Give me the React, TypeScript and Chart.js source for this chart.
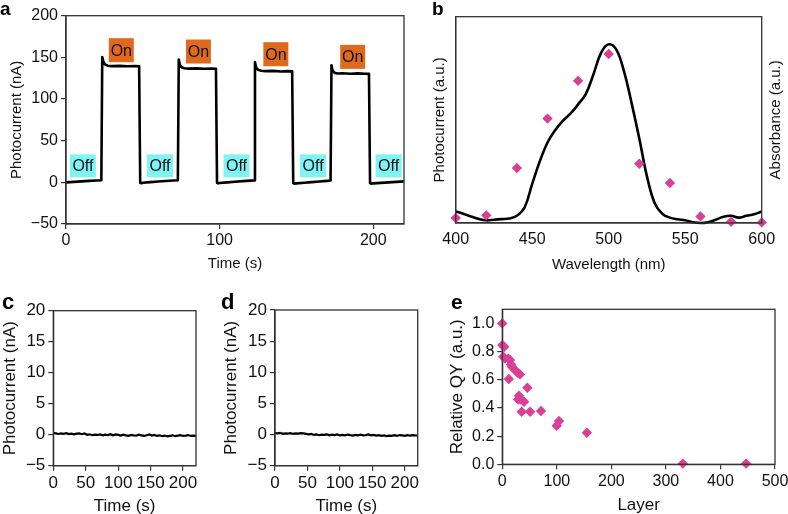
import React, { useEffect, useRef } from "react";
import { Chart, registerables } from "chart.js";
Chart.register(...registerables);

const FONT = "'Liberation Sans', Arial, Helvetica, sans-serif";
const AXIS = "#333";
const TXT = "#111";
const MAGENTA = "#DA3F96";

// ---------- Panel a ----------
const A_TIME = [0, 5, 10, 15, 20, 23, 23.6, 24.3, 25.3, 27, 30, 35, 40, 45, 47.6, 48.3, 49, 50, 55, 60, 65, 70, 72.8,
  73.4, 74.1, 75.3, 77, 80, 85, 90, 95, 97.6, 98.3, 99, 100, 105, 110, 115, 120, 122.4,
  123, 123.7, 125, 127, 130, 135, 140, 144, 147.2, 147.9, 148.6, 150, 155, 160, 165, 170, 172.2,
  172.8, 173.5, 175, 177, 180, 185, 190, 195, 197.2, 197.9, 198.6, 200, 205, 210, 215, 220];
const A_CURRENT = [0, 0.6, 1.2, 1.8, 2.3, 2.6, 150.5, 145, 141.5, 140, 139.5, 139.8, 139.4, 139.6, 139.2, -0.5, -1, -0.5, 0.3, 1, 1.6, 2.2, 2.5,
  147.5, 141, 138, 137, 136.5, 136.8, 136.3, 136.6, 136.2, -0.5, -1.2, -0.8, 0, 0.8, 1.5, 2.1, 2.4,
  144.5, 138, 135, 134, 133.5, 133.8, 133.1, 133.5, 133.2, -0.8, -1.5, -1.2, -0.5, 0.3, 1, 1.8, 2.2,
  140.5, 134, 131.2, 130.6, 130.9, 130.4, 130.8, 130.3, 130.2, -0.8, -1.5, -1.2, -0.6, 0, 0.6, 1.2];
const A_X_TICKS = [0, 100, 200];
const A_Y_TICKS = [-50, 0, 50, 100, 150, 200];
const ON_T = [36, 86.2, 136.6, 186.6];
const ON_V = [158.6, 157, 153.8, 150.6];
const OFF_T = [11, 61.2, 111, 160.8, 210];
const OFF_V = [19.8, 19.8, 19.8, 19.8, 19.8];

// ---------- Panel b ----------
const B_WL = [400, 405, 410, 415, 420, 425, 430, 435, 440, 445, 450, 455, 460, 465, 470, 475, 480, 485, 490, 495, 500,
  505, 510, 515, 520, 525, 530, 535, 540, 545, 550, 555, 560, 565, 570, 575, 580, 585, 590, 595, 600];
const B_ABS = [0.056, 0.045, 0.032, 0.02, 0.013, 0.016, 0.019, 0.022, 0.035, 0.075, 0.19, 0.3, 0.39, 0.45, 0.495, 0.53, 0.575, 0.625, 0.72, 0.825, 0.866,
  0.84, 0.735, 0.58, 0.41, 0.226, 0.097, 0.045, 0.026, 0.018, 0.013, 0.004, 0.0, 0.004, 0.016, 0.03, 0.035, 0.026, 0.035, 0.042, 0.056];
const B_WL_PTS = [400, 420, 440, 460, 480, 500, 520, 540, 560, 580, 600];
const B_PC_PTS = [0.024, 0.037, 0.266, 0.506, 0.689, 0.819, 0.287, 0.194, 0.032, 0.006, 0.003];
const B_X_TICKS = [400, 450, 500, 550, 600];

// ---------- Panels c, d ----------
const CD_TIME = [0, 4, 8, 12, 16, 20, 24, 28, 32, 36, 40, 44, 48, 52, 56, 60, 64, 68, 72, 76, 80, 84, 88, 92, 96, 100, 104, 108, 112, 116,
  120, 124, 128, 132, 136, 140, 144, 148, 152, 156, 160, 164, 168, 172, 176, 180, 184, 188, 192, 196, 200, 204, 208, 212, 216, 220];
const C_CURRENT = [0.30, 0.22, 0.12, 0.20, 0.14, 0.24, 0.10, 0.18, 0.06, 0.16,
  0.20, 0.08, 0.22, -0.02, 0.06, -0.08, 0.02, -0.04, 0.06, -0.10,
  0.00, -0.06, 0.08, -0.10, 0.04, -0.04, -0.14, 0.00, -0.10, -0.18,
  -0.04, -0.10, -0.14, 0.02, -0.10, -0.20, -0.08, 0.04, -0.14, -0.04,
  -0.20, -0.10, -0.24, -0.14, -0.28, -0.18, -0.10, -0.24, -0.14, -0.08,
  -0.20, -0.14, -0.06, -0.20, -0.14, -0.20];
const D_CURRENT = [0.24, 0.18, 0.26, 0.12, 0.20, 0.16, 0.22, 0.10, 0.18, 0.14,
  0.24, 0.20, 0.12, 0.04, 0.10, -0.06, 0.02, -0.10, 0.00, -0.06,
  0.04, -0.12, -0.02, -0.08, 0.02, -0.14, -0.06, -0.12, 0.00, -0.10,
  -0.16, -0.06, -0.12, -0.02, -0.14, -0.08, 0.02, -0.12, -0.06, -0.18,
  -0.10, -0.22, -0.14, -0.26, -0.16, -0.20, -0.10, -0.22, -0.08, -0.14,
  -0.20, -0.10, -0.16, -0.08, -0.14, -0.18];
const CD_X_TICKS = [0, 50, 100, 150, 200];
const CD_Y_TICKS = [-5, 0, 5, 10, 15, 20];

// ---------- Panel e ----------
const E_LAYER = [0, 0, 3.7, 1.8, 5, 11, 14, 16, 18, 23, 28, 32.5, 12, 46, 30.5, 29, 34, 40, 35.5, 51, 71, 99.7, 104, 155, 331, 447];
const E_QY = [1.0, 0.846, 0.834, 0.763, 0.75, 0.75, 0.74, 0.709, 0.69, 0.67, 0.65, 0.638, 0.605, 0.543, 0.487, 0.46, 0.46, 0.444, 0.373, 0.373, 0.378, 0.274, 0.307, 0.224, 0.005, 0.005];
const E_X_TICKS = [0, 100, 200, 300, 400, 500];
const E_Y_TICKS = [0, 0.2, 0.4, 0.6, 0.8, 1.0];

const minus = (v: number) => (v < 0 ? "\u2212" + Math.abs(v) : String(v));

type AxisP = {
  min: number; max: number; ticks: number[]; decimals?: number; size: number;
  font: number; title: string; titleFont: number; titlePad?: number;
  tickLen: number; tickPad?: number; showLabels?: boolean; horizontal: boolean;
};
function axis(p: AxisP): any {
  return {
    type: "linear",
    min: p.min,
    max: p.max,
    afterBuildTicks: (s: any) => { s.ticks = p.ticks.map((v) => ({ value: v })); },
    afterFit: (s: any) => {
      if (p.horizontal) { s.height = p.size; s.paddingLeft = 0; s.paddingRight = 0; }
      else { s.width = p.size; s.paddingTop = 0; s.paddingBottom = 0; }
    },
    grid: { display: true, drawOnChartArea: false, drawTicks: p.tickLen > 0, tickLength: p.tickLen, color: AXIS, lineWidth: 1.2 },
    border: { display: true, color: AXIS, width: 1.3 },
    ticks: {
      display: p.showLabels !== false,
      color: TXT,
      font: { family: FONT, size: p.font },
      padding: p.tickPad ?? 3,
      maxRotation: 0,
      autoSkip: false,
      callback: (v: any) => (p.decimals != null ? Number(v).toFixed(p.decimals) : minus(Number(v))),
    },
    title: {
      display: true, text: p.title, color: TXT,
      font: { family: FONT, size: p.titleFont },
      padding: { top: p.titlePad ?? 0, bottom: p.titlePad ?? 0 },
    },
  };
}

const boxPlugin = {
  id: "box",
  afterDraw(chart: any) {
    const { ctx, chartArea: a } = chart;
    ctx.save();
    ctx.strokeStyle = AXIS;
    ctx.lineWidth = 1.3;
    ctx.strokeRect(a.left, a.top, a.right - a.left, a.bottom - a.top);
    ctx.restore();
  },
};
const letter = (t: string, x: number, y: number, size: number) => ({
  id: "letter" + t,
  afterDraw(chart: any) {
    const ctx = chart.ctx;
    ctx.save();
    ctx.font = `bold ${size}px ${FONT}`;
    ctx.fillStyle = "#000";
    ctx.textBaseline = "alphabetic";
    ctx.textAlign = "left";
    ctx.fillText(t, x, y);
    ctx.restore();
  },
});

const onOffPlugin = {
  id: "onoff",
  beforeDatasetsDraw(chart: any) {
    const { ctx } = chart;
    const xs = chart.scales.x, ys = chart.scales.y;
    ctx.save();
    ctx.font = `16px ${FONT}`;
    ctx.textAlign = "center";
    ctx.textBaseline = "middle";
    ON_T.forEach((t, i) => {
      const cx = xs.getPixelForValue(t), cy = ys.getPixelForValue(ON_V[i]);
      ctx.fillStyle = "#DF6A1E";
      ctx.fillRect(cx - 12.5, cy - 12, 25, 24);
      ctx.fillStyle = "#111";
      ctx.fillText("On", cx, cy + 1);
    });
    OFF_T.forEach((t, i) => {
      const cx = xs.getPixelForValue(t), cy = ys.getPixelForValue(OFF_V[i]);
      ctx.fillStyle = "#80F4F4";
      ctx.fillRect(cx - 13, cy - 11.5, 26, 23);
      ctx.fillStyle = "#111";
      ctx.fillText("Off", cx, cy + 1);
    });
    ctx.restore();
  },
};

const rightTitle = {
  id: "rtitle",
  afterDraw(chart: any) {
    const { ctx, chartArea: a } = chart;
    ctx.save();
    ctx.translate(775.5, (a.top + a.bottom) / 2);
    ctx.rotate(-Math.PI / 2);
    ctx.font = `15px ${FONT}`;
    ctx.fillStyle = TXT;
    ctx.textAlign = "center";
    ctx.textBaseline = "middle";
    ctx.fillText("Absorbance (a.u.)", 0, 0);
    ctx.restore();
  },
};

const base = (padding: any) => ({
  responsive: false,
  animation: false as const,
  devicePixelRatio: 1,
  events: [] as any[],
  layout: { padding },
  plugins: { legend: { display: false }, tooltip: { enabled: false } },
});

const pts = (xs: number[], ys: number[]) => xs.map((x, i) => ({ x, y: ys[i] }));

function cfgA(): any {
  return {
    type: "scatter",
    data: { datasets: [{ data: pts(A_TIME, A_CURRENT), showLine: true, borderColor: "#000", borderWidth: 2.6, pointRadius: 0, tension: 0, borderJoinStyle: "round" }] },
    options: {
      ...base({ left: 8, right: 384, top: 15.7, bottom: 241 }),
      scales: {
        x: axis({ min: 0, max: 220, ticks: A_X_TICKS, size: 49, font: 16, title: "Time (s)", titleFont: 15, tickLen: 5, tickPad: 2, horizontal: true }),
        y: axis({ min: -50, max: 200, ticks: A_Y_TICKS, size: 58, font: 16, title: "Photocurrent (nA)", titleFont: 15, tickLen: 5, horizontal: false }),
      },
    },
    plugins: [onOffPlugin, boxPlugin, letter("a", 0, 15, 19)],
  };
}

function cfgB(): any {
  return {
    type: "scatter",
    data: {
      datasets: [
        { data: pts(B_WL_PTS, B_PC_PTS), pointStyle: "rectRot", pointRadius: 5.2, backgroundColor: MAGENTA, borderWidth: 0, clip: false },
        { data: pts(B_WL, B_ABS), showLine: true, borderColor: "#000", borderWidth: 2.6, pointRadius: 0, tension: 0.4, clip: false },
      ],
    },
    options: {
      ...base({ left: 431, right: 26.3, top: 16.7, bottom: 240 }),
      scales: {
        x: axis({ min: 400, max: 600, ticks: B_X_TICKS, size: 51, font: 16, title: "Wavelength (nm)", titleFont: 15, tickLen: 0, tickPad: 7.4, horizontal: true }),
        y: axis({ min: 0, max: 1, ticks: [], size: 24.7, font: 16, title: "Photocurrent (a.u.)", titleFont: 15, tickLen: 0, showLabels: false, horizontal: false }),
      },
    },
    plugins: [boxPlugin, rightTitle, letter("b", 432, 15, 19)],
  };
}

function cfgCD(vals: number[], padL: number, padR: number, top: number, yW: number, lt: string, lx: number): any {
  return {
    type: "scatter",
    data: { datasets: [{ data: pts(CD_TIME, vals), showLine: true, borderColor: "#000", borderWidth: 2.2, pointRadius: 0, tension: 0 }] },
    options: {
      ...base({ left: padL, right: padR, top, bottom: 0 }),
      scales: {
        x: axis({ min: 0, max: 220, ticks: CD_X_TICKS, size: 48.3, font: 17, title: "Time (s)", titleFont: 17, titlePad: -2.7, tickLen: 5, tickPad: 2, horizontal: true }),
        y: axis({ min: -5, max: 20, ticks: CD_Y_TICKS, size: yW, font: 17, title: "Photocurrent (nA)", titleFont: 17, tickLen: 5, horizontal: false }),
      },
    },
    plugins: [boxPlugin, letter(lt, lx, 309, 22)],
  };
}

function cfgE(): any {
  return {
    type: "scatter",
    data: { datasets: [{ data: pts(E_LAYER, E_QY), pointStyle: "rectRot", pointRadius: 5.2, backgroundColor: MAGENTA, borderWidth: 0, clip: false }] },
    options: {
      ...base({ left: 446.8, right: 13, top: 309.3, bottom: 0 }),
      scales: {
        x: axis({ min: 0, max: 500, ticks: E_X_TICKS, size: 49.7, font: 16, title: "Layer", titleFont: 17, titlePad: -1.2, tickLen: 5, horizontal: true }),
        y: axis({ min: 0, max: 1.1, ticks: E_Y_TICKS, decimals: 1, size: 55.5, font: 16, title: "Relative QY (a.u.)", titleFont: 17, tickLen: 5, horizontal: false }),
      },
    },
    plugins: [boxPlugin, letter("e", 451, 309, 21)],
  };
}

export default function App() {
  const r0 = useRef<HTMLCanvasElement>(null);
  const r1 = useRef<HTMLCanvasElement>(null);
  const r2 = useRef<HTMLCanvasElement>(null);
  const r3 = useRef<HTMLCanvasElement>(null);
  const r4 = useRef<HTMLCanvasElement>(null);
  const refs = [r0, r1, r2, r3, r4];

  useEffect(() => {
    const charts = [
      new Chart(r0.current!, cfgA()),
      new Chart(r1.current!, cfgB()),
      new Chart(r2.current!, cfgCD(C_CURRENT, 0, 592, 310.7, 53.3, "c", 2)),
      new Chart(r3.current!, cfgCD(D_CURRENT, 220.8, 370.3, 310, 54.2, "d", 221)),
      new Chart(r4.current!, cfgE()),
    ];
    return () => charts.forEach((c) => c.destroy());
  }, []);

  return (
    <div style={{ position: "absolute", left: 0, top: 0, width: 788, height: 514, background: "#fff", overflow: "hidden" }}>
      {refs.map((r, i) => (
        <canvas key={i} ref={r} width={788} height={514}
          style={{ position: "absolute", left: 0, top: 0, width: 788, height: 514 }} />
      ))}
    </div>
  );
}
